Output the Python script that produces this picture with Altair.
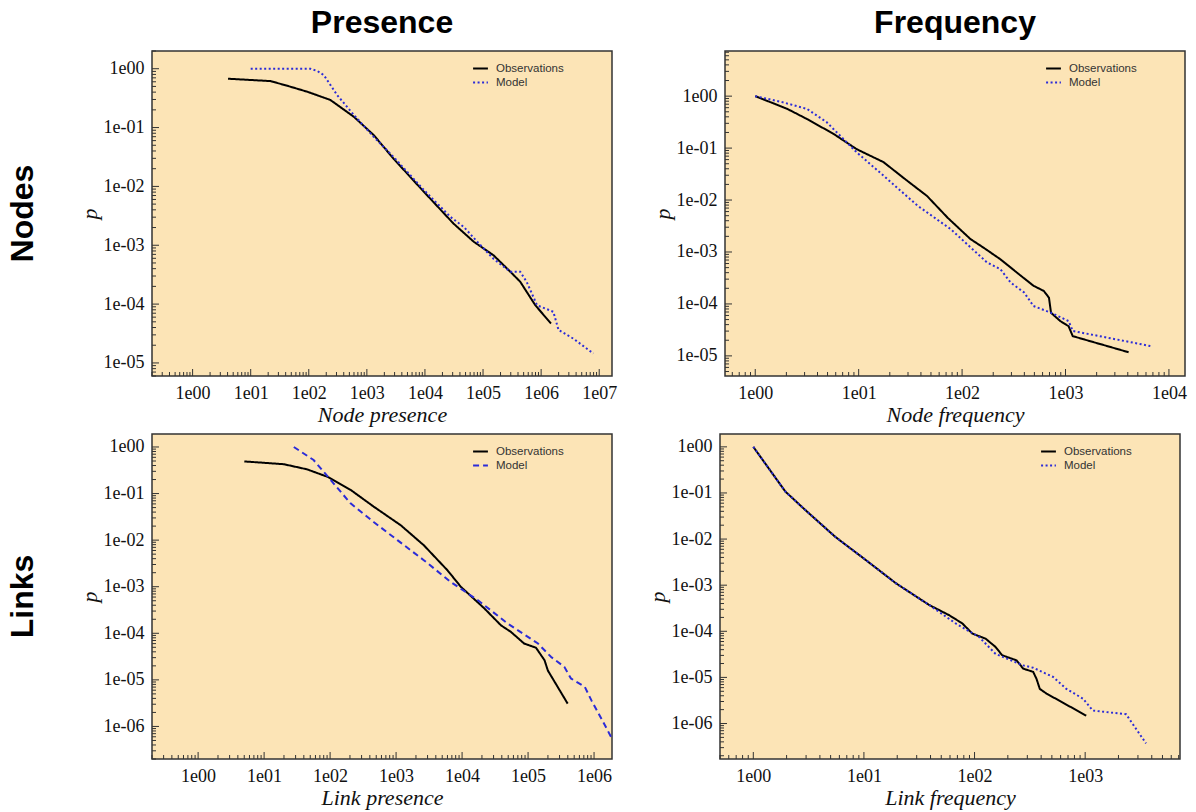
import altair as alt
import pandas as pd

# ---------------- data (log10 exponents) ----------------
# Node presence
np_obs_lx = [0.61, 1.34, 1.63, 1.97, 2.37, 2.78, 3.12, 3.46, 3.98, 4.49, 4.84, 5.18, 5.47, 5.64, 5.90, 6.17]
np_obs_ly = [-0.17, -0.21, -0.29, -0.39, -0.53, -0.82, -1.13, -1.53, -2.09, -2.63, -2.94, -3.17, -3.45, -3.62, -4.02, -4.33]
np_mod_lx = [1.00, 2.03, 2.15, 2.26, 2.49, 2.78, 3.12, 3.46, 3.98, 4.44, 4.67, 4.90, 5.18, 5.47, 5.64, 5.75, 5.93, 6.21, 6.30, 6.56, 6.90]
np_mod_ly = [0.00, 0.00, -0.04, -0.11, -0.45, -0.79, -1.16, -1.50, -2.06, -2.52, -2.69, -2.94, -3.23, -3.45, -3.45, -3.62, -4.02, -4.13, -4.44, -4.59, -4.84]

# Node frequency
nf_obs_lx = [0.00, 0.31, 0.50, 0.76, 0.98, 1.24, 1.47, 1.66, 1.86, 2.08, 2.21, 2.37, 2.57, 2.69, 2.79, 2.84, 2.86, 2.95, 3.03, 3.07, 3.61]
nf_obs_ly = [0.00, -0.245, -0.44, -0.73, -1.02, -1.27, -1.63, -1.92, -2.34, -2.75, -2.92, -3.14, -3.46, -3.65, -3.75, -3.88, -4.17, -4.33, -4.43, -4.62, -4.93]
nf_mod_lx = [0.00, 0.27, 0.50, 0.69, 0.85, 0.98, 1.24, 1.57, 1.89, 2.24, 2.37, 2.47, 2.60, 2.69, 2.86, 3.03, 3.07, 3.82]
nf_mod_ly = [0.00, -0.12, -0.245, -0.50, -0.82, -1.08, -1.53, -2.11, -2.56, -3.20, -3.33, -3.59, -3.78, -4.04, -4.17, -4.33, -4.52, -4.81]

# Link presence
lp_obs_lx = [0.70, 1.30, 1.65, 1.96, 2.31, 2.66, 3.07, 3.42, 3.78, 3.98, 4.34, 4.59, 4.74, 4.94, 5.12, 5.25, 5.30, 5.60]
lp_obs_ly = [-0.31, -0.37, -0.48, -0.64, -0.92, -1.28, -1.68, -2.11, -2.65, -3.00, -3.47, -3.83, -3.97, -4.22, -4.31, -4.58, -4.80, -5.51]
lp_mod_lx = [1.45, 1.75, 2.01, 2.31, 2.66, 3.02, 3.42, 3.83, 4.24, 4.69, 5.15, 5.35, 5.55, 5.65, 5.86, 5.96, 6.14, 6.26]
lp_mod_ly = [0.00, -0.28, -0.71, -1.21, -1.61, -2.00, -2.43, -2.90, -3.29, -3.79, -4.22, -4.51, -4.72, -4.97, -5.15, -5.44, -5.91, -6.23]

# Link frequency
lf_obs_lx = [0.00, 0.29, 0.47, 0.74, 1.02, 1.29, 1.59, 1.77, 1.89, 1.98, 2.10, 2.19, 2.25, 2.38, 2.44, 2.53, 2.56, 2.59, 2.65, 3.01]
lf_obs_ly = [0.00, -0.97, -1.37, -1.95, -2.46, -2.96, -3.43, -3.65, -3.83, -4.05, -4.16, -4.34, -4.52, -4.63, -4.81, -4.88, -5.03, -5.25, -5.35, -5.83]
lf_mod_lx = [0.00, 0.29, 0.47, 0.74, 1.02, 1.29, 1.59, 1.83, 2.04, 2.19, 2.44, 2.53, 2.71, 2.83, 2.98, 3.07, 3.37, 3.55]
lf_mod_ly = [0.00, -0.97, -1.37, -1.95, -2.46, -2.96, -3.43, -3.83, -4.12, -4.49, -4.74, -4.79, -4.99, -5.25, -5.46, -5.72, -5.80, -6.43]

series_names = ["Observations", "Model"]
column_titles = ["Presence", "Frequency"]
row_titles = ["Nodes", "Links"]
x_titles = ["Node presence", "Node frequency", "Link presence", "Link frequency"]

# axis decades (tick labels)
np_x_dec = [1e0, 1e1, 1e2, 1e3, 1e4, 1e5, 1e6, 1e7]
np_y_dec = [1e-5, 1e-4, 1e-3, 1e-2, 1e-1, 1e0]
nf_x_dec = [1e0, 1e1, 1e2, 1e3, 1e4]
nf_y_dec = [1e-5, 1e-4, 1e-3, 1e-2, 1e-1, 1e0]
lp_x_dec = [1e0, 1e1, 1e2, 1e3, 1e4, 1e5, 1e6]
lp_y_dec = [1e-6, 1e-5, 1e-4, 1e-3, 1e-2, 1e-1, 1e0]
lf_x_dec = [1e0, 1e1, 1e2, 1e3]
lf_y_dec = [1e-6, 1e-5, 1e-4, 1e-3, 1e-2, 1e-1, 1e0]

# scale domains
np_x_dom, np_y_dom = [0.2, 1.66e7], [6e-6, 2.0]
nf_x_dom, nf_y_dom = [0.51, 1.43e4], [4.1e-6, 7.4]
lp_x_dom, lp_y_dom = [0.2, 1.87e6], [2.0e-7, 1.9]
lf_x_dom, lf_y_dom = [0.5, 7200], [1.7e-7, 1.9]

W, H = 460, 325
BG = "#FCE4B6"
BORDER = "#333333"
BLUE = "#2b2bd8"
SERIF = "Liberation Serif"
SANS = "Liberation Sans"

LABEL_EXPR = ("'1e' + (round(log(datum.value)/LN10) < 0 ? '-' : '') + "
              "(abs(round(log(datum.value)/LN10)) < 10 ? '0' : '') + "
              "abs(round(log(datum.value)/LN10))")


def minor_ticks(decades, dom):
    lo, hi = dom
    vals = []
    base = [d / 10 for d in decades[:1]] + list(decades)
    for d in base:
        for m in range(2, 10):
            v = d * m
            if lo <= v <= hi:
                vals.append(v)
    return vals


def make_legend():
    return alt.Legend(title=None, orient="none", legendX=320, legendY=9,
                      symbolType="stroke", symbolStrokeWidth=2, symbolSize=220,
                      labelFont=SANS, labelFontSize=11.5, labelColor="#333333",
                      rowPadding=0, padding=0, labelOffset=7)


def panel(obs_lx, obs_ly, mod_lx, mod_ly, x_dec, y_dec, x_dom, y_dom, x_title, model_dash, title=None):
    obs_df = pd.DataFrame({"x": [10 ** v for v in obs_lx], "y": [10 ** v for v in obs_ly],
                           "series": series_names[0]})
    mod_df = pd.DataFrame({"x": [10 ** v for v in mod_lx], "y": [10 ** v for v in mod_ly],
                           "series": series_names[1]})

    xs = alt.Scale(type="log", domain=x_dom, nice=False)
    ys = alt.Scale(type="log", domain=y_dom, nice=False)
    xaxis = alt.Axis(values=x_dec, labelExpr=LABEL_EXPR, title=x_title)
    yaxis = alt.Axis(values=y_dec, labelExpr=LABEL_EXPR, title="p")
    color = alt.Color("series:N",
                      scale=alt.Scale(domain=series_names, range=["#000000", BLUE]),
                      legend=make_legend())
    dash = alt.StrokeDash("series:N",
                          scale=alt.Scale(domain=series_names, range=[[1, 0], model_dash]),
                          legend=make_legend())

    obs = alt.Chart(obs_df).mark_line(strokeWidth=2, clip=True).encode(
        x=alt.X("x:Q", scale=xs, axis=xaxis), y=alt.Y("y:Q", scale=ys, axis=yaxis),
        color=color, strokeDash=dash)
    mod = alt.Chart(mod_df).mark_line(strokeWidth=2, clip=True).encode(
        x=alt.X("x:Q", scale=xs, axis=xaxis), y=alt.Y("y:Q", scale=ys, axis=yaxis),
        color=color, strokeDash=dash)

    xmaj = pd.DataFrame({"x": [d for d in x_dec if x_dom[0] <= d <= x_dom[1]]})
    xmin = pd.DataFrame({"x": minor_ticks(x_dec, x_dom)})
    ymaj = pd.DataFrame({"y": [d for d in y_dec if y_dom[0] <= d <= y_dom[1]]})
    ymin = pd.DataFrame({"y": minor_ticks(y_dec, y_dom)})

    def xt(df, length):
        return alt.Chart(df).mark_rule(color=BORDER, strokeWidth=1).encode(
            x=alt.X("x:Q", scale=xs, axis=xaxis),
            y=alt.value(H), y2=alt.value(H - length))

    def yt(df, length):
        return alt.Chart(df).mark_rule(color=BORDER, strokeWidth=1).encode(
            y=alt.Y("y:Q", scale=ys, axis=yaxis),
            x=alt.value(0), x2=alt.value(length))

    layer = alt.layer(obs, mod, xt(xmin, 4), xt(xmaj, 7), yt(ymin, 4), yt(ymaj, 7))
    props = dict(width=W, height=H)
    if title is not None:
        props["title"] = alt.TitleParams(title, font=SANS, fontSize=32, fontWeight="bold",
                                         color="#000000", anchor="middle", offset=11)
    return layer.properties(**props)


def row_label(text):
    df = pd.DataFrame({"t": [text]})
    return alt.Chart(df).mark_text(angle=270, font=SANS, fontSize=32, fontWeight="bold",
                                   color="#000000").encode(
        text="t:N", x=alt.value(17), y=alt.value(H / 2)
    ).properties(width=38, height=H,
                 view=alt.ViewBackground(fill="transparent", stroke="transparent"))


dotted = [2, 2.5]
dashed = [6, 4]

p1 = panel(np_obs_lx, np_obs_ly, np_mod_lx, np_mod_ly, np_x_dec, np_y_dec, np_x_dom, np_y_dom,
           x_titles[0], dotted, column_titles[0])
p2 = panel(nf_obs_lx, nf_obs_ly, nf_mod_lx, nf_mod_ly, nf_x_dec, nf_y_dec, nf_x_dom, nf_y_dom,
           x_titles[1], dotted, column_titles[1])
p3 = panel(lp_obs_lx, lp_obs_ly, lp_mod_lx, lp_mod_ly, lp_x_dec, lp_y_dec, lp_x_dom, lp_y_dom,
           x_titles[2], dashed)
p4 = panel(lf_obs_lx, lf_obs_ly, lf_mod_lx, lf_mod_ly, lf_x_dec, lf_y_dec, lf_x_dom, lf_y_dom,
           x_titles[3], dotted)

row1 = alt.hconcat(row_label(row_titles[0]), p1, p2, spacing=32).resolve_scale(
    x="independent", y="independent", color="independent", strokeDash="independent")
row2 = alt.hconcat(row_label(row_titles[1]), p3, p4, spacing=32).resolve_scale(
    x="independent", y="independent", color="independent", strokeDash="independent")

chart = alt.vconcat(row1, row2, spacing=7).resolve_scale(
    x="independent", y="independent", color="independent", strokeDash="independent"
).configure(
    padding={"left": 5, "top": 5, "right": 5, "bottom": 5},
    background="white",
).configure_view(
    fill=BG, stroke=BORDER, strokeWidth=1.5
).configure_axis(
    labelFont=SERIF, labelFontSize=18, labelColor="#111111", labelPadding=8,
    ticks=False, tickSize=0, domain=False, grid=False,
    labelFlush=False, labelOverlap=False,
    titleFont=SERIF, titleFontStyle="italic", titleFontWeight="normal",
    titleFontSize=22, titleColor="#111111", titlePadding=2,
)

chart.save("out.html", embed_options={"renderer": "svg", "actions": False})
